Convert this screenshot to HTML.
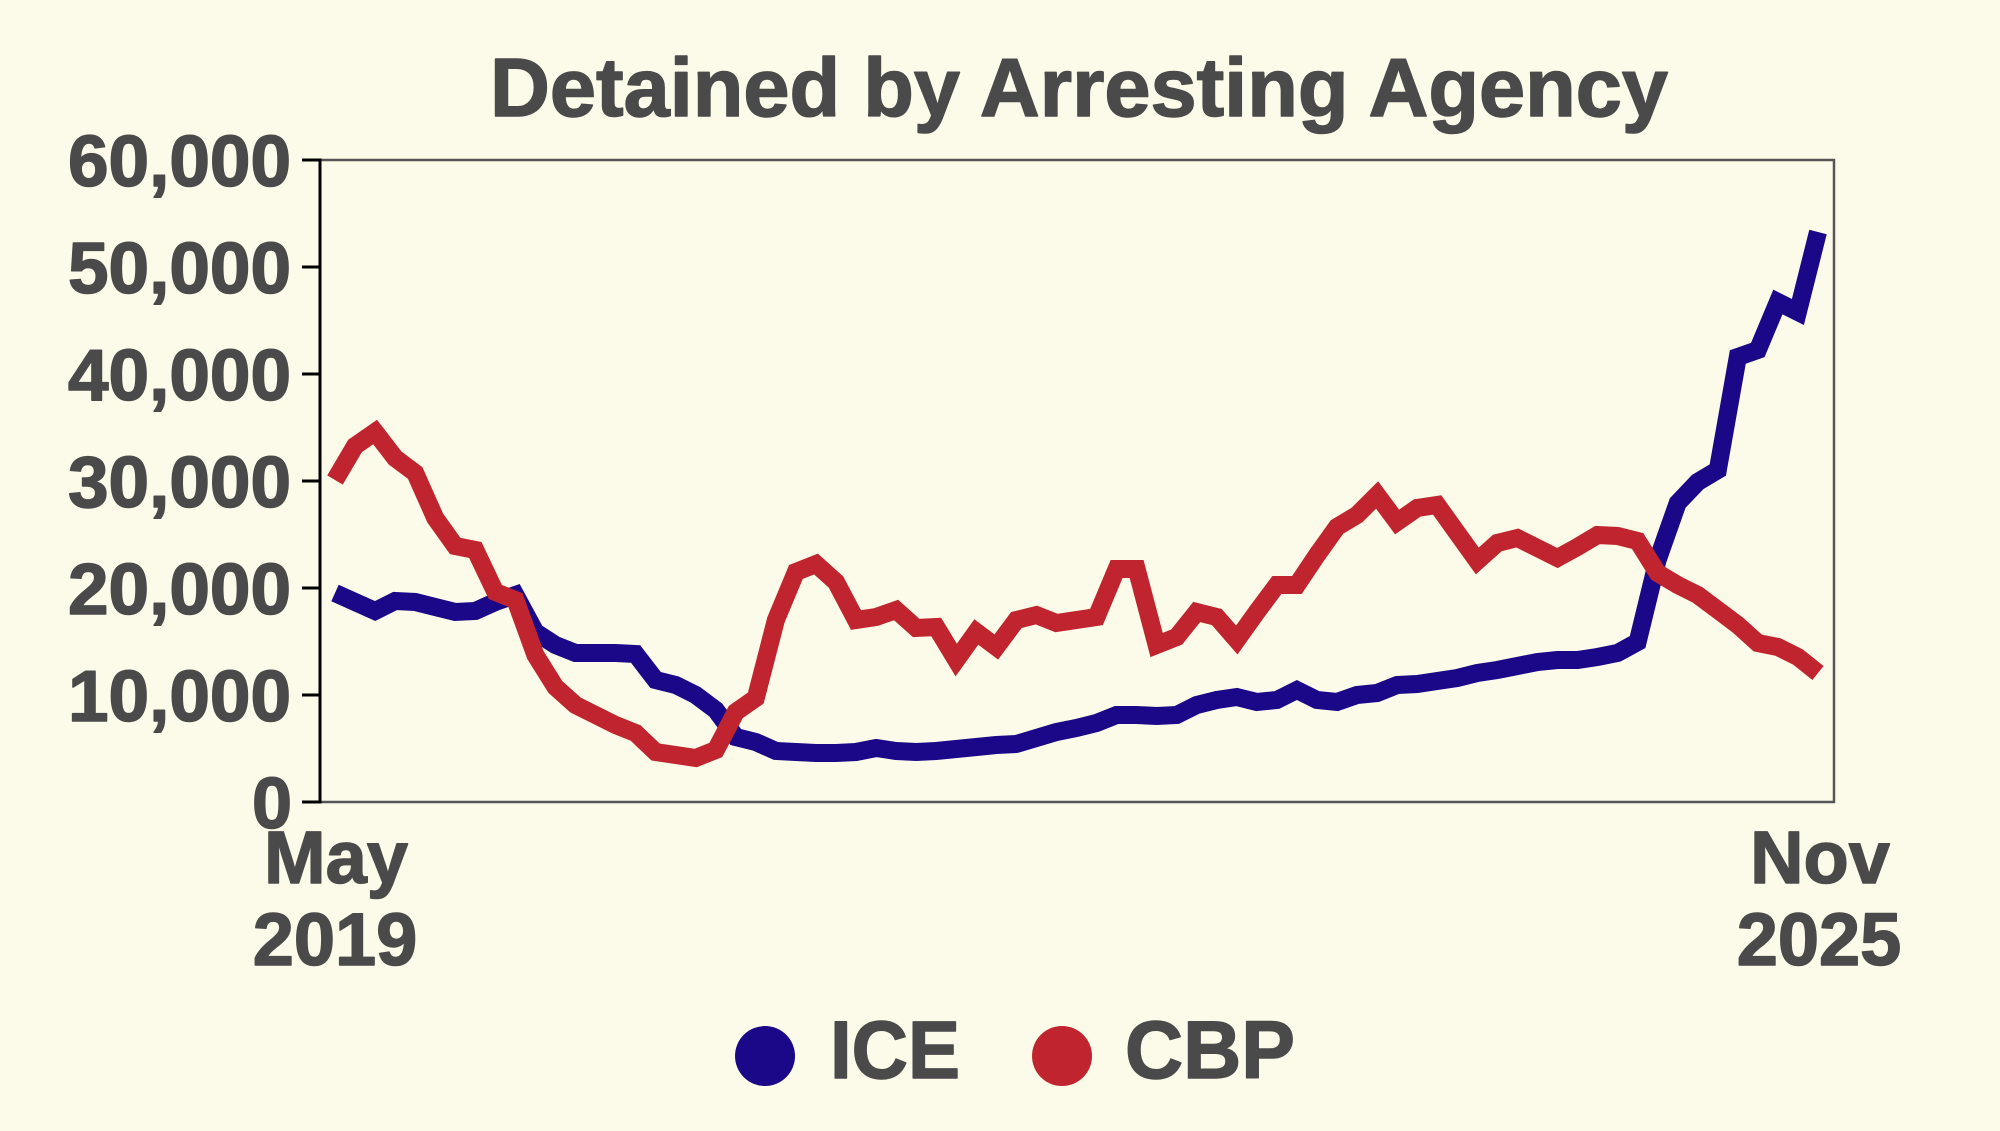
<!DOCTYPE html>
<html>
<head>
<meta charset="utf-8">
<style>
  html, body { margin:0; padding:0; background:#fcfbea; }
  svg { display:block; }
  text { font-family: "Liberation Sans", Arial, sans-serif; font-weight:bold; fill:#4a4a4a; stroke:#4a4a4a; stroke-width:1.5; stroke-linejoin:round; }
</style>
</head>
<body>
<svg width="2000" height="1131" viewBox="0 0 2000 1131" xmlns="http://www.w3.org/2000/svg">
  <rect x="0" y="0" width="2000" height="1131" fill="#fcfbea"/>

  <!-- Title -->
  <text x="1079" y="116" font-size="83" text-anchor="middle" textLength="1178" lengthAdjust="spacingAndGlyphs">Detained by Arresting Agency</text>

  <!-- Plot frame -->
  <rect x="320" y="160" width="1514" height="642" fill="none" stroke="#555555" stroke-width="2.5"/>
  <line x1="320" y1="158.5" x2="320" y2="803.5" stroke="#000" stroke-width="3"/>

  <!-- Ticks -->
  <g stroke="#000" stroke-width="3">
    <line x1="302" y1="802" x2="320" y2="802"/>
    <line x1="302" y1="695" x2="320" y2="695"/>
    <line x1="302" y1="588" x2="320" y2="588"/>
    <line x1="302" y1="481" x2="320" y2="481"/>
    <line x1="302" y1="374" x2="320" y2="374"/>
    <line x1="302" y1="267" x2="320" y2="267"/>
    <line x1="302" y1="160" x2="320" y2="160"/>
  </g>

  <!-- Y labels -->
  <g font-size="72" text-anchor="end">
    <text x="291" y="186" textLength="223" lengthAdjust="spacingAndGlyphs">60,000</text>
    <text x="291" y="293" textLength="223" lengthAdjust="spacingAndGlyphs">50,000</text>
    <text x="291" y="400" textLength="223" lengthAdjust="spacingAndGlyphs">40,000</text>
    <text x="291" y="507" textLength="223" lengthAdjust="spacingAndGlyphs">30,000</text>
    <text x="291" y="614" textLength="223" lengthAdjust="spacingAndGlyphs">20,000</text>
    <text x="291" y="721" textLength="223" lengthAdjust="spacingAndGlyphs">10,000</text>
    <text x="292" y="828">0</text>
  </g>

  <!-- X labels -->
  <g font-size="74" text-anchor="middle">
    <text x="336" y="883">May</text>
    <text x="335" y="965">2019</text>
    <text x="1820" y="883">Nov</text>
    <text x="1819" y="965">2025</text>
  </g>

  <!-- ICE series -->
  <polyline fill="none" stroke="#1a0888" stroke-width="18" stroke-linejoin="miter" stroke-linecap="butt"
    points="335.0,593 355.0,602 375.1,611 395.1,601 415.2,602 435.2,607 455.2,612 475.3,611 495.3,602 515.4,595 535.4,632 555.4,645 575.5,653 595.5,653 615.6,653 635.6,654 655.6,680 675.7,685 695.7,695 715.8,710 735.8,737 755.8,742 775.9,751 795.9,752 816.0,753 836.0,753 856.0,752 876.1,748 896.1,751 916.2,752 936.2,751 956.2,749 976.3,747 996.3,745 1016.4,744 1036.4,738 1056.4,732 1076.5,728 1096.5,723 1116.6,715 1136.6,715 1156.6,716 1176.7,715 1196.7,705 1216.8,700 1236.8,697 1256.8,702 1276.9,700 1296.9,690 1317.0,700 1337.0,702 1357.0,695 1377.1,693 1397.1,685 1417.2,684 1437.2,681 1457.2,678 1477.3,673 1497.3,670 1517.4,666 1537.4,662 1557.4,660 1577.5,660 1597.5,657 1617.6,653 1637.6,642 1657.6,560 1677.7,503 1697.7,482 1717.8,470 1737.8,357 1757.8,350 1777.9,302 1797.9,312 1818.0,232"/>

  <!-- CBP series -->
  <polyline fill="none" stroke="#c0252f" stroke-width="18" stroke-linejoin="miter" stroke-linecap="butt"
    points="335.0,480 355.0,446 375.1,432 395.1,458 415.2,473 435.2,518 455.2,546 475.3,550 495.3,592 515.4,600 535.4,655 555.4,687 575.5,705 595.5,715 615.6,725 635.6,733 655.6,752 675.7,755 695.7,758 715.8,750 735.8,712 755.8,698 775.9,620 795.9,572 816.0,564 836.0,582 856.0,620 876.1,617 896.1,610 916.2,628 936.2,627 956.2,660 976.3,632 996.3,647 1016.4,620 1036.4,615 1056.4,623 1076.5,620 1096.5,617 1116.6,569 1136.6,569 1156.6,645 1176.7,637 1196.7,612 1216.8,617 1236.8,640 1256.8,612 1276.9,585 1296.9,585 1317.0,555 1337.0,527 1357.0,515 1377.1,495 1397.1,522 1417.2,508 1437.2,505 1457.2,533 1477.3,561 1497.3,543 1517.4,538 1537.4,548 1557.4,558 1577.5,547 1597.5,535 1617.6,536 1637.6,541 1657.6,573 1677.7,585 1697.7,595 1717.8,610 1737.8,625 1757.8,643 1777.9,647 1797.9,657 1818.0,673"/>

  <!-- Legend -->
  <circle cx="765" cy="1056" r="30" fill="#1a0888"/>
  <text x="830" y="1078" font-size="82" textLength="130" lengthAdjust="spacingAndGlyphs">ICE</text>
  <circle cx="1062" cy="1056" r="30" fill="#c0252f"/>
  <text x="1125" y="1078" font-size="82" textLength="170" lengthAdjust="spacingAndGlyphs">CBP</text>
</svg>
</body>
</html>
